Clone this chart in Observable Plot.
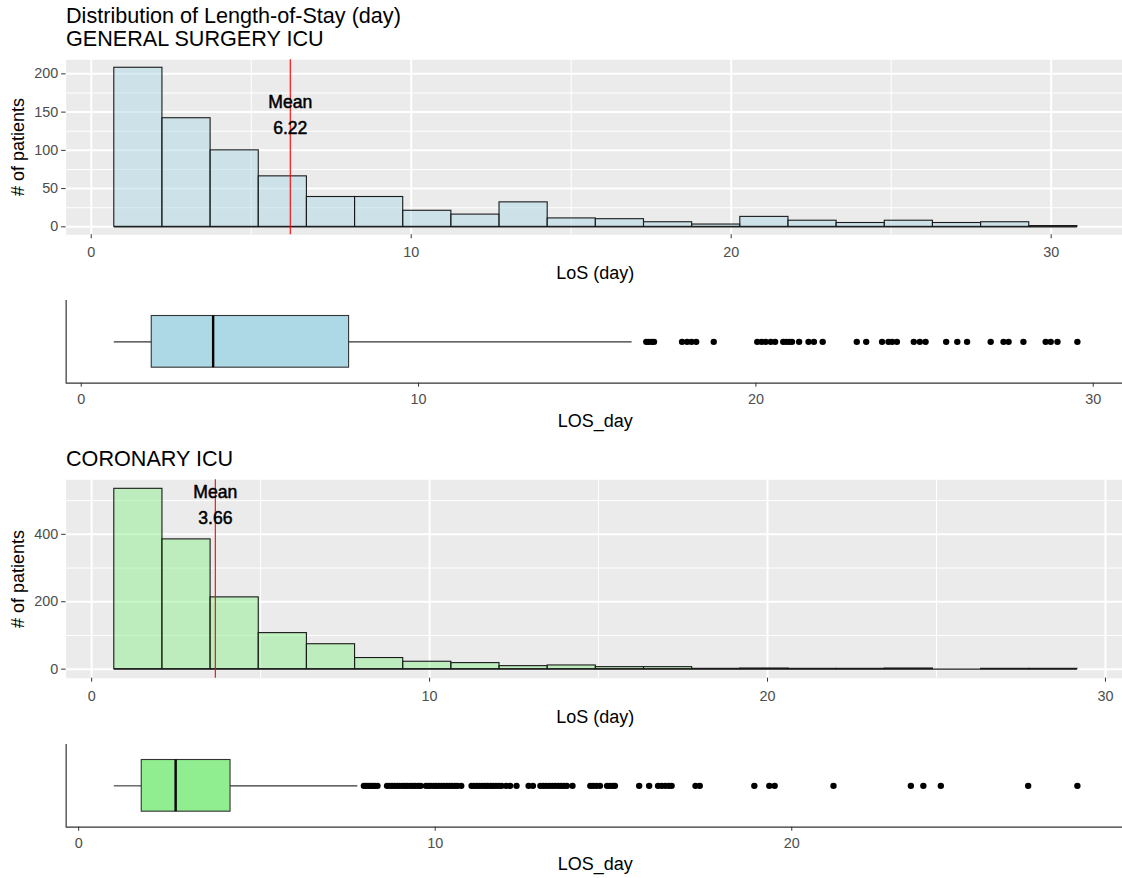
<!DOCTYPE html>
<html>
<head>
<meta charset="utf-8">
<script src="https://cdn.jsdelivr.net/npm/d3@7"></script>
<script src="https://cdn.jsdelivr.net/npm/@observablehq/plot@0.6"></script>
<style>
html,body{margin:0;padding:0;background:#fff;}
#wrap{position:relative;width:1122px;height:878px;overflow:hidden;background:#fff;font-family:"Liberation Sans",Arial,Helvetica,sans-serif;}
.lbl{position:absolute;white-space:nowrap;line-height:1;color:#000;}
.title{font-size:21.6px;left:66px;}
.axt{font-size:18px;}
</style>
</head>
<body>
<div id="wrap"></div>
<script>
// ---------------- data ----------------
const titleText = "Distribution of Length-of-Stay (day)";
const unitNames = ["GENERAL SURGERY ICU", "CORONARY ICU"];
const histXLabel = "LoS (day)";
const boxXLabel = "LOS_day";
const histYLabel = "# of patients";
const xTicks = [0, 10, 20, 30];
const gsYTicks = [0, 50, 100, 150, 200];
const coYTicks = [0, 200, 400];

// GENERAL SURGERY ICU histogram (bin edges in days, counts of patients)
const gsEdges = [0.72, 2.225, 3.73, 5.235, 6.74, 8.245, 9.75, 11.255, 12.76, 14.265, 15.77,
                 17.275, 18.78, 20.285, 21.79, 23.295, 24.80, 26.305, 27.81, 29.315, 30.82];
const gsCounts = [208, 142, 100, 66, 39, 39, 21, 16, 32, 11, 10, 6, 3, 13, 8, 5, 8, 5, 6, 1];
const gsMean = 6.22;
// box stats: lower whisker, Q1, median, Q3, upper whisker
const gsBoxStats = [0.98, 2.09, 3.91, 7.94, 16.33];
const gsOutliers = [16.75, 16.82, 16.91, 16.98, 17.81, 17.96, 18.09, 18.23, 18.75,
  20.04, 20.17, 20.29, 20.44, 20.57, 20.81, 20.90, 20.99, 21.07, 21.28, 21.56, 21.72, 21.98,
  22.99, 23.27, 23.74, 23.93, 24.04, 24.18, 24.68, 24.86, 25.03, 25.64, 25.97, 26.26,
  26.96, 27.34, 27.49, 27.93, 28.59, 28.74, 28.94, 29.53];

// CORONARY ICU
const coEdges = [0.67, 2.095, 3.52, 4.945, 6.37, 7.795, 9.22, 10.645, 12.07, 13.495, 14.92,
                 16.345, 17.77, 19.195, 20.62, 22.045, 23.47, 24.895, 26.32, 27.745, 29.17];
const coCounts = [535, 385, 213, 107, 74, 33, 22, 18, 9, 11, 6, 6, 1, 2, 1, 1, 2, 0, 1, 1];
const coMean = 3.66;
const coBoxStats = [1.00, 1.77, 2.72, 4.26, 7.83];
const coOutliers = [8.00, 8.06, 8.12, 8.19, 8.25, 8.31, 8.38,
  8.65, 8.72, 8.79, 8.86, 8.93, 9.00, 9.08, 9.15, 9.22, 9.30, 9.37, 9.44, 9.52, 9.59,
  9.74, 9.81, 9.88, 9.96, 10.03, 10.10, 10.18, 10.25, 10.33, 10.40, 10.47, 10.55, 10.62, 10.73,
  11.02, 11.09, 11.17, 11.24, 11.32, 11.40, 11.47, 11.55, 11.62, 11.70, 11.78, 11.86, 11.99, 12.10,
  12.28, 12.62, 12.74,
  12.95, 13.03, 13.11, 13.20, 13.28, 13.36, 13.45, 13.53, 13.61, 13.69, 13.85,
  14.35, 14.43, 14.52, 14.62, 14.82, 14.90, 14.98, 15.04,
  15.72, 16.00, 16.25, 16.35, 16.45, 16.55, 16.63, 17.30, 17.42,
  18.95, 19.37, 19.52, 21.17, 23.34, 23.69, 24.18, 26.63, 28.01];

// ---------------- layout ----------------
const FONT = '"Liberation Sans", Arial, Helvetica, sans-serif';
const W = 1125.1, ML = 65.6;
const wrap = document.getElementById("wrap");

function expand([lo, hi]) { const p = 0.05 * (hi - lo); return [lo - p, hi + p]; }
function inDomain(vals, d) { return vals.filter(v => v >= d[0] && v <= d[1]); }
function minorsOf(t, d) {
  const s = t[1] - t[0];
  return inDomain([t[0] - s / 2, ...t.map(v => v + s / 2)], d);
}
function place(svg, top) {
  svg.style.position = "absolute";
  svg.style.left = "0px";
  svg.style.top = top + "px";
  svg.style.maxWidth = "none";
  wrap.appendChild(svg);
}
function addText(text, cls, css) {
  const d = document.createElement("div");
  d.className = "lbl " + cls;
  d.textContent = text;
  Object.assign(d.style, css);
  wrap.appendChild(d);
  return d;
}
function xTitle(text, baseline) {
  addText(text, "axt", {left: (ML + W) / 2 + "px", top: (baseline - 15.24) + "px", transform: "translateX(-50%)"});
}
function yTitle(text, cy) {
  addText(text, "axt", {left: "18px", top: cy + "px", transform: "translate(-50%,-50%) rotate(-90deg)"});
}

function histPanel({edges, counts, mean, yTicks, fill, labelY, top, height, mT, mB}) {
  const bins = counts.map((n, i) => ({x1: edges[i], x2: edges[i + 1], y1: 0, y2: n}));
  const xd = expand([edges[0], edges[edges.length - 1]]);
  const yd = expand([0, d3.max(counts)]);
  const xMinor = minorsOf(xTicks, xd), yMinor = minorsOf(yTicks, yd);
  const svg = Plot.plot({
    width: W, height, marginLeft: ML, marginRight: 0, marginTop: mT, marginBottom: mB,
    style: {fontFamily: FONT, background: "transparent", overflow: "visible", maxWidth: "none"},
    x: {domain: xd},
    y: {domain: yd},
    marks: [
      Plot.frame({fill: "#EBEBEB", stroke: null}),
      Plot.ruleX(xMinor, {stroke: "white", strokeWidth: 1}),
      Plot.ruleY(yMinor, {stroke: "white", strokeWidth: 1}),
      Plot.ruleX(inDomain(xTicks, xd), {stroke: "white", strokeWidth: 2}),
      Plot.ruleY(yTicks, {stroke: "white", strokeWidth: 2}),
      Plot.rect(bins, {x1: "x1", x2: "x2", y1: "y1", y2: "y2", fill, fillOpacity: 0.5,
        stroke: "#1a1a1a", strokeWidth: 1.1}),
      // bottom outline of the bars (also covers empty bins)
      Plot.ruleY([{x1: edges[0], x2: edges[edges.length - 1], y: 0}], {x1: "x1", x2: "x2", y: "y",
        stroke: "#1a1a1a", strokeWidth: 1.1}),
      Plot.ruleX([mean], {stroke: "red", strokeWidth: 1.1}),
      Plot.text([{x: mean, y: labelY, t: `Mean\n${mean.toFixed(2)}`}], {x: "x", y: "y", text: "t",
        fontSize: 17.6, lineHeight: 1.48, fill: "black", stroke: "black", strokeWidth: 0.5}),
      Plot.axisX(inDomain(xTicks, xd), {tickSize: 4, tickPadding: 8.4, fontSize: 14.4,
        fill: "#4D4D4D", stroke: "#333", label: null}),
      Plot.axisY(yTicks, {tickSize: 4.5, tickPadding: 3.5, fontSize: 14.4,
        fill: "#4D4D4D", stroke: "#333", label: null})
    ]
  });
  place(svg, top);
}

function boxPanel({stats, outliers, fill, top, height, mT, mB}) {
  const [lo, q1, med, q3, hi] = stats;
  const xd = expand([d3.min([lo, ...outliers]), d3.max([hi, ...outliers])]);
  const yd = [0.4, 1.6];
  const svg = Plot.plot({
    width: W, height, marginLeft: ML, marginRight: 0, marginTop: mT, marginBottom: mB,
    style: {fontFamily: FONT, background: "transparent", overflow: "visible", maxWidth: "none"},
    x: {domain: xd},
    y: {domain: yd, axis: null},
    marks: [
      Plot.ruleY([{x1: lo, x2: q1, y: 1}, {x1: q3, x2: hi, y: 1}], {x1: "x1", x2: "x2", y: "y",
        stroke: "#333", strokeWidth: 1.1}),
      Plot.rect([{x1: q1, x2: q3, y1: 0.625, y2: 1.375}], {x1: "x1", x2: "x2", y1: "y1", y2: "y2",
        fill, stroke: "#333", strokeWidth: 1.1}),
      Plot.ruleX([{x: med, y1: 0.625, y2: 1.375}], {x: "x", y1: "y1", y2: "y2", stroke: "black", strokeWidth: 2.4}),
      Plot.dot(outliers, {x: d => d, y: () => 1, r: 3.2, fill: "black", stroke: null}),
      Plot.ruleX([xd[0]], {stroke: "#333", strokeWidth: 1.2}),
      Plot.ruleY([yd[0]], {stroke: "#333", strokeWidth: 1.2}),
      Plot.axisX(inDomain(xTicks, xd), {tickSize: 4, tickPadding: 6.8, fontSize: 14.4,
        fill: "#4D4D4D", stroke: "#333", label: null})
    ]
  });
  place(svg, top);
}

// Panel 1: GENERAL SURGERY ICU histogram
histPanel({edges: gsEdges, counts: gsCounts, mean: gsMean, yTicks: gsYTicks, fill: "#ADD8E6",
  labelY: 149, top: 50, height: 240, mT: 9.3, mB: 55.7});
// Panel 2: boxplot
boxPanel({stats: gsBoxStats, outliers: gsOutliers, fill: "#ADD8E6", top: 290, height: 150, mT: 10, mB: 57.3});
// Panel 3: CORONARY ICU histogram
histPanel({edges: coEdges, counts: coCounts, mean: coMean, yTicks: coYTicks, fill: "#90EE90",
  labelY: 494, top: 470, height: 260, mT: 9.3, mB: 52.3});
// Panel 4: boxplot
boxPanel({stats: coBoxStats, outliers: coOutliers, fill: "#90EE90", top: 730, height: 148, mT: 14, mB: 51.3});

// Titles and axis titles
addText(titleText, "title", {top: "5px"});
addText(unitNames[0], "title", {top: "27.7px"});
addText(unitNames[1], "title", {top: "447.7px"});
xTitle(histXLabel, 279.3);
xTitle(boxXLabel, 426.9);
xTitle(histXLabel, 723.6);
xTitle(boxXLabel, 870.6);
yTitle(histYLabel, 146.8);
yTitle(histYLabel, 578.5);
</script>
</body>
</html>
